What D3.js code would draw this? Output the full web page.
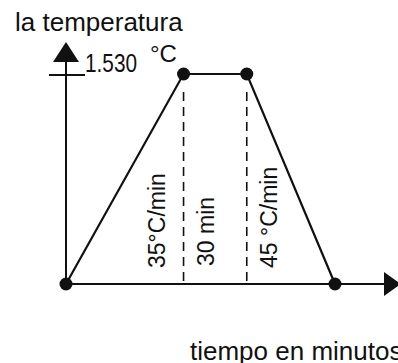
<!DOCTYPE html>
<html>
<head>
<meta charset="utf-8">
<script src="https://cdn.jsdelivr.net/npm/d3@7"></script>
<style>
  body { margin: 0; background: #fff; }
  text { font-family: "Liberation Sans", Arial, sans-serif; fill: #111; }
</style>
</head>
<body>
<div id="chart"></div>
<script>
const width = 398;
const height = 363;

// schematic time positions (relative units) and temperatures
const times = [0, 43.7, 67.2, 100];
const temps = [0, 1530, 1530, 0];
const yTicks = [1530];
const stageLabels = ['35°C/min', '30 min', '45 °C/min'];
const stageLabelPos = [36.8, 55.0, 78.4];

const x = d3.scaleLinear().domain([0, 100]).range([66, 335]);
const y = d3.scaleLinear().domain([0, 1530]).range([284, 74]);

const points = times.map((t, i) => ({ x: t, y: temps[i] }));

const svg = d3.select('#chart')
  .append('svg')
    .attr('width', width)
    .attr('height', height);

const ink = '#111';

// axes
svg.append('line')
  .attr('x1', x(0)).attr('x2', 384)
  .attr('y1', y(0)).attr('y2', y(0))
  .attr('stroke', ink).attr('stroke-width', 2);

svg.append('path')
  .attr('d', `M384,${y(0) - 12}L401,${y(0)}L384,${y(0) + 12}Z`)
  .attr('fill', ink);

svg.append('line')
  .attr('x1', x(0)).attr('x2', x(0))
  .attr('y1', y(0)).attr('y2', 61)
  .attr('stroke', ink).attr('stroke-width', 2);

svg.append('path')
  .attr('d', `M${x(0) - 13},62L${x(0)},42L${x(0) + 13},62Z`)
  .attr('fill', ink);

svg.selectAll('.ytick')
  .data(yTicks)
  .join('line')
    .attr('class', 'ytick')
    .attr('x1', x(0) - 17).attr('x2', x(0) + 19)
    .attr('y1', d => y(d) + 1).attr('y2', d => y(d) + 1)
    .attr('stroke', ink).attr('stroke-width', 2);

svg.selectAll('.ylabel')
  .data(yTicks)
  .join('text')
    .attr('class', 'ylabel')
    .attr('x', 85)
    .attr('y', 72)
    .attr('font-size', 26)
    .attr('transform', 'translate(85,0) scale(0.8,1) translate(-85,0)')
    .text(d => d3.format(',')(d).replace(',', '.'));

svg.append('text')
  .attr('x', 150).attr('y', 62)
  .attr('font-size', 24)
  .text('°C');

// dashed guides at the hold stage
svg.selectAll('.guide')
  .data([points[1], points[2]])
  .join('line')
    .attr('class', 'guide')
    .attr('x1', d => x(d.x)).attr('x2', d => x(d.x))
    .attr('y1', d => y(d.y) + 18).attr('y2', y(0))
    .attr('stroke', ink).attr('stroke-width', 1.6)
    .attr('stroke-dasharray', '9,6');

// profile
svg.append('path')
  .datum(points)
  .attr('d', d3.line().x(d => x(d.x)).y(d => y(d.y)))
  .attr('fill', 'none')
  .attr('stroke', ink)
  .attr('stroke-width', 2.2);

svg.selectAll('.dot')
  .data(points)
  .join('circle')
    .attr('class', 'dot')
    .attr('cx', d => x(d.x))
    .attr('cy', d => y(d.y))
    .attr('r', 6.5)
    .attr('fill', ink);

// stage labels
svg.selectAll('.stage')
  .data(stageLabels)
  .join('text')
    .attr('class', 'stage')
    .attr('font-size', 23)
    .attr('text-anchor', 'start')
    .attr('transform', (d, i) => `translate(${x(stageLabelPos[i])},${i === 1 ? 266 : 268}) rotate(-90)`)
    .text(d => d);

svg.append('text')
  .attr('x', 15).attr('y', 31)
  .attr('font-size', 26)
  .text('la temperatura');

svg.append('text')
  .attr('x', 190).attr('y', 360)
  .attr('font-size', 26)
  .text('tiempo en minutos');
</script>
</body>
</html>
